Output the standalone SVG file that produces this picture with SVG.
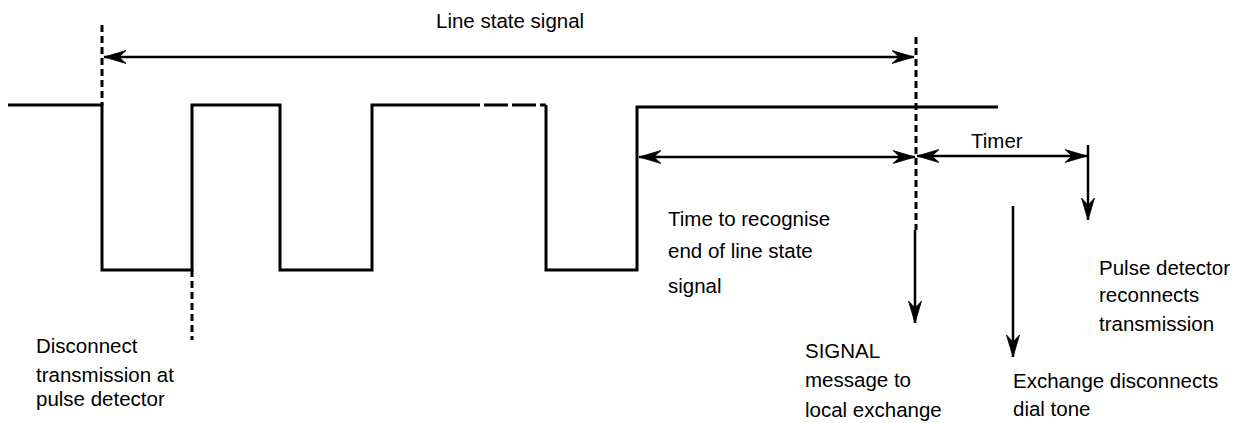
<svg xmlns="http://www.w3.org/2000/svg" width="1248" height="423" viewBox="0 0 1248 423">
<style>
.sig{fill:none;stroke:#000;stroke-width:3;stroke-linejoin:miter;stroke-linecap:butt}
.ln{fill:none;stroke:#000;stroke-width:2.5}
.dash{fill:none;stroke:#000;stroke-width:3;stroke-dasharray:7,4}
text{font-family:"Liberation Sans",Arial,sans-serif;font-size:20.5px;fill:#000}
</style>
<defs>
<marker id="ah" viewBox="-24 -8 26 16" refX="0" refY="0" markerWidth="26" markerHeight="16" markerUnits="userSpaceOnUse" orient="auto-start-reverse">
<path d="M0,0 L-22,-6.5 L-15,0 L-22,6.5 Z" fill="#000" stroke="#000" stroke-width="0.8" stroke-linejoin="miter"/>
</marker>
</defs>
<g id="signal">
<path class="sig" d="M8,105 H102 V270 H192 V105 H280 V270 H372 V105 H480"/>
<path class="sig" d="M484,105 H508 M512,105 H536 M540,105 H546"/>
<path class="sig" d="M546,105 V270 H637 V107 H998"/>
</g>
<g id="connectors">
<line class="dash" x1="102" y1="25" x2="102" y2="105"/>
<line class="dash" x1="192" y1="270" x2="192" y2="340"/>
<line class="dash" x1="916" y1="37" x2="916" y2="230"/>
<line class="ln" x1="104" y1="57" x2="914" y2="57" marker-start="url(#ah)" marker-end="url(#ah)"/>
<line class="ln" x1="639" y1="157" x2="915" y2="157" marker-start="url(#ah)" marker-end="url(#ah)"/>
<line class="ln" x1="917" y1="156" x2="1087" y2="156" marker-start="url(#ah)" marker-end="url(#ah)"/>
<line class="ln" x1="915" y1="230" x2="915" y2="323" marker-end="url(#ah)"/>
<line class="ln" x1="1013" y1="206" x2="1013" y2="357" marker-end="url(#ah)"/>
<line class="ln" x1="1088" y1="145" x2="1088" y2="220" marker-end="url(#ah)"/>
</g>
<g id="label-line-state"><text x="436" y="28">Line state signal</text></g>
<g id="label-timer"><text x="971" y="148">Timer</text></g>
<g id="label-recognise">
<text x="668" y="226">Time to recognise</text>
<text x="668" y="258">end of line state</text>
<text x="668" y="293">signal</text>
</g>
<g id="label-signal-msg">
<text x="805" y="358">SIGNAL</text>
<text x="805" y="387">message to</text>
<text x="805" y="417">local exchange</text>
</g>
<g id="label-exchange">
<text x="1013" y="388">Exchange disconnects</text>
<text x="1013" y="416">dial tone</text>
</g>
<g id="label-reconnect">
<text x="1099" y="275">Pulse detector</text>
<text x="1099" y="302">reconnects</text>
<text x="1099" y="331">transmission</text>
</g>
<g id="label-disconnect">
<text x="36" y="353">Disconnect</text>
<text x="36" y="382">transmission at</text>
<text x="36" y="406">pulse detector</text>
</g>
</svg>
